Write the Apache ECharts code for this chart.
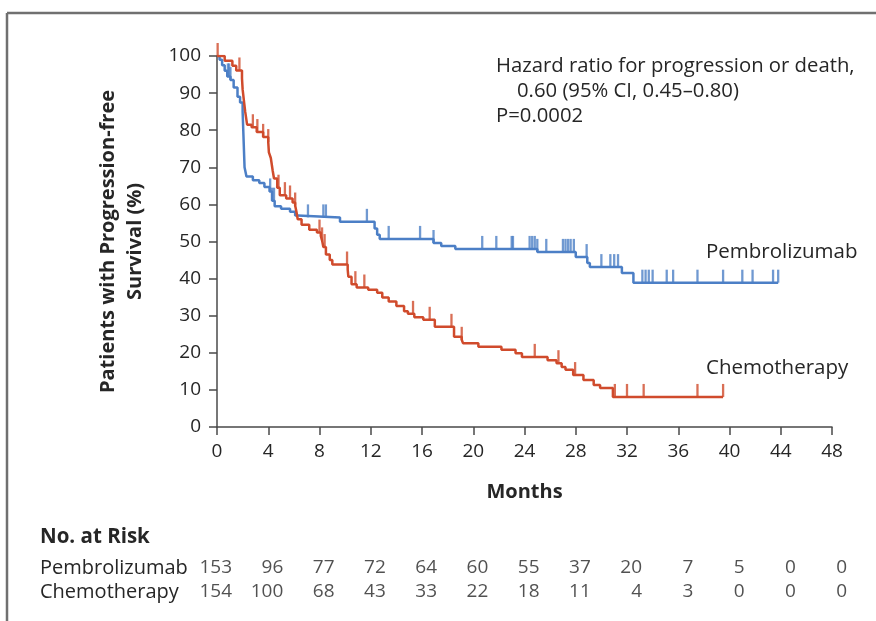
<!DOCTYPE html>
<html>
<head>
<meta charset="utf-8">
<script src="https://cdn.jsdelivr.net/npm/echarts@6/dist/echarts.min.js"></script>
<style>
html, body { margin: 0; padding: 0; background: #fff; }
#main { width: 876px; height: 621px; }
</style>
</head>
<body>
<div id="main"></div>
<script>
// Kaplan-Meier steps: [month, survival %]
var pembroCurve = [
    [0, 100], [0.2, 99], [0.4, 97.5], [0.6, 96], [0.8, 94.5], [1.05, 93.5], [1.3, 91.5],
    [1.6, 89], [1.8, 87.5], [2.0, 85], [2.05, 80], [2.1, 75], [2.15, 70], [2.3, 67.5],
    [2.8, 66.5], [3.3, 65.8], [3.7, 64.7], [4.1, 63.5], [4.3, 61], [4.5, 59.5], [5.0, 58.8],
    [5.7, 58], [6.1, 57], [6.3, 56.5], [9.6, 55.3], [12.3, 53.5], [12.5, 51.8], [12.7, 50.7],
    [16.9, 49.6], [17.5, 48.8], [18.6, 48], [25.0, 47.2], [28.0, 45.8], [28.9, 44.2],
    [29.1, 43.1], [31.6, 41.5], [32.5, 38.9], [43.8, 38.9]
];
var chemoCurve = [
    [0, 100], [0.6, 98.7], [1.2, 97.4], [1.5, 96.1], [1.95, 94], [2.0, 91], [2.1, 88],
    [2.2, 85], [2.35, 81.5], [2.7, 80.8], [3.1, 79.5], [3.6, 78.2], [4.0, 76.8], [4.05, 74],
    [4.2, 72.5], [4.35, 69], [4.45, 67], [4.7, 64.5], [4.9, 62.5], [5.4, 61.6], [5.9, 60.5],
    [6.1, 59.7], [6.2, 58], [6.3, 56], [6.6, 54.5], [7.2, 53.2], [7.8, 52.4], [8.1, 51.5],
    [8.2, 50.3], [8.3, 48.5], [8.5, 46.5], [8.8, 45], [9.0, 43.8], [10.2, 42.5], [10.25, 40.5],
    [10.5, 38.5], [10.9, 37.6], [11.8, 37], [12.5, 36.2], [12.9, 34.9], [13.4, 33.8],
    [14.0, 32.6], [14.6, 31.2], [14.9, 30.5], [15.4, 29.6], [16.1, 28.9], [17.0, 27.0],
    [18.5, 24.3], [19.1, 23.5], [19.2, 22.6], [20.4, 21.6], [22.2, 20.8], [23.3, 19.9],
    [23.8, 18.9], [25.8, 18], [26.5, 17.2], [26.9, 16.2], [27.2, 15.4], [27.8, 14],
    [28.6, 12.7], [29.4, 11.3], [29.9, 10.5], [30.9, 8.1], [39.5, 8.1]
];

// censored observations: [month, survival %]
var pembroCensor = [
    [0.85, 94.5], [0.95, 94.5], [1.05, 93.5], [4.15, 63.5], [4.3, 61], [4.45, 61],
    [7.1, 56.5], [8.3, 56.5], [8.5, 56.5], [11.7, 55.3], [13.4, 50.7], [15.85, 50.7],
    [16.9, 49.6], [20.7, 48], [21.8, 48], [23.0, 48], [23.1, 48], [24.4, 48], [24.6, 48],
    [24.8, 48], [25.0, 47.2], [25.7, 47.2], [27.0, 47.2], [27.2, 47.2], [27.4, 47.2],
    [27.6, 47.2], [27.85, 47.2], [28.85, 45.8], [30.0, 43.1], [30.7, 43.1], [31.0, 43.1],
    [31.3, 43.1], [33.2, 38.9], [33.45, 38.9], [33.7, 38.9], [34.0, 38.9], [35.1, 38.9],
    [35.6, 38.9], [37.5, 38.9], [39.5, 38.9], [41.0, 38.9], [41.8, 38.9], [43.4, 38.9],
    [43.8, 38.9]
];
var chemoCensor = [
    [0.05, 100], [1.75, 96.1], [2.8, 80.8], [3.15, 79.5], [3.6, 78.2], [4.0, 76.8],
    [4.8, 64.5], [5.3, 62.5], [5.7, 61.6], [6.1, 59.7], [8.0, 52.4], [8.2, 50.3],
    [8.4, 48.5], [10.15, 43.8], [10.8, 38.5], [11.5, 37.6], [15.3, 30.5], [16.6, 28.9],
    [18.3, 27.0], [19.1, 23.5], [24.8, 18.9], [26.65, 17.2], [27.95, 14], [31.05, 8.1],
    [32.0, 8.1], [33.3, 8.1], [37.5, 8.1], [39.5, 8.1]
];

var riskMonths = [0, 4, 8, 12, 16, 20, 24, 28, 32, 36, 40, 44, 48];
var pembroRisk = [153, 96, 77, 72, 64, 60, 55, 37, 20, 7, 5, 0, 0];
var chemoRisk = [154, 100, 68, 43, 33, 22, 18, 11, 4, 3, 0, 0, 0];
var groups = ['Pembrolizumab', 'Chemotherapy'];

var blue = '#4c7fc6';
var red = '#d04b2c';
var textColor = '#262626';
var axisColor = '#4a4a4a';
var font = 'Open Sans';

var chart = echarts.init(document.getElementById('main'));

function riskData(counts, row) {
    return riskMonths.map(function (m, i) { return [m, row, counts[i]]; });
}

var tickMark = {
    type: 'scatter',
    symbol: 'rect',
    symbolSize: [2.3, 13],
    symbolOffset: [0, -6.5],
    silent: true,
    z: 3
};

option = {
    animation: false,
    backgroundColor: '#fff',
    textStyle: { fontFamily: font },
    grid: [
        { left: 217, right: 44, top: 56, bottom: 194 },
        { left: 217, right: 44, top: 556, height: 48 }
    ],
    xAxis: [{
        type: 'value',
        gridIndex: 0,
        min: 0,
        max: 48,
        interval: 4,
        name: 'Months',
        nameLocation: 'middle',
        nameGap: 55,
        nameTextStyle: { fontSize: 20, fontWeight: 'bold', color: textColor, verticalAlign: 'top' },
        axisLine: { show: true, lineStyle: { color: axisColor, width: 1.5 } },
        axisTick: { show: true, length: 8, lineStyle: { color: axisColor, width: 1.5 } },
        axisLabel: { fontSize: 19, color: textColor, margin: 15 },
        splitLine: { show: false }
    }, {
        type: 'value',
        gridIndex: 1,
        min: 0,
        max: 48,
        interval: 4,
        show: false
    }],
    yAxis: [{
        type: 'value',
        gridIndex: 0,
        min: 0,
        max: 100,
        interval: 10,
        name: 'Patients with Progression-free\nSurvival (%)',
        nameLocation: 'middle',
        nameGap: 68,
        nameTextStyle: { fontSize: 20, fontWeight: 'bold', color: textColor, lineHeight: 27 },
        axisLine: { show: true, lineStyle: { color: axisColor, width: 1.5 } },
        axisTick: { show: true, length: 8, lineStyle: { color: axisColor, width: 1.5 } },
        axisLabel: { fontSize: 19, color: textColor, margin: 16 },
        splitLine: { show: false }
    }, {
        type: 'category',
        gridIndex: 1,
        data: groups,
        inverse: true,
        axisLine: { show: false },
        axisTick: { show: false },
        axisLabel: { interval: 0, hideOverlap: false, align: 'left', margin: 177, fontSize: 20, color: textColor }
    }],
    series: [
        {
            name: 'Pembrolizumab',
            type: 'line',
            step: 'end',
            data: pembroCurve,
            showSymbol: false,
            lineStyle: { color: blue, width: 2.5 },
            z: 2
        },
        Object.assign({}, tickMark, { name: 'Pembrolizumab censored', data: pembroCensor, itemStyle: { color: blue } }),
        {
            name: 'Chemotherapy',
            type: 'line',
            step: 'end',
            data: chemoCurve,
            showSymbol: false,
            lineStyle: { color: red, width: 2.5 },
            z: 4
        },
        Object.assign({}, tickMark, { name: 'Chemotherapy censored', data: chemoCensor, itemStyle: { color: red }, z: 5 }),
        {
            type: 'scatter',
            xAxisIndex: 1,
            yAxisIndex: 1,
            symbolSize: 0,
            data: riskData(pembroRisk, groups[0]).concat(riskData(chemoRisk, groups[1])),
            label: {
                show: true,
                position: 'left',
                distance: 0,
                offset: [15, 0],
                fontSize: 19,
                color: textColor,
                formatter: function (p) { return p.value[2]; }
            },
            silent: true
        }
    ],
    graphic: [
        { type: 'line', shape: { x1: 7, y1: 13, x2: 876, y2: 13 }, style: { stroke: '#707070', lineWidth: 2.5 } },
        { type: 'line', shape: { x1: 7, y1: 13, x2: 7, y2: 621 }, style: { stroke: '#707070', lineWidth: 2.5 } },
        { type: 'text', left: 496, top: 56, style: { text: 'Hazard ratio for progression or death,', font: '20.3px "Open Sans"', fill: textColor } },
        { type: 'text', left: 517, top: 81, style: { text: '0.60 (95% CI, 0.45\u20130.80)', font: '20.3px "Open Sans"', fill: textColor } },
        { type: 'text', left: 496, top: 106, style: { text: 'P=0.0002', font: '20.3px "Open Sans"', fill: textColor } },
        { type: 'text', left: 706, top: 242, style: { text: 'Pembrolizumab', font: '20.5px "Open Sans"', fill: textColor } },
        { type: 'text', left: 706, top: 358, style: { text: 'Chemotherapy', font: '20.5px "Open Sans"', fill: textColor } },
        { type: 'text', left: 40, top: 527, style: { text: 'No. at Risk', font: 'bold 20.5px "Open Sans"', fill: textColor } }
    ]
};

chart.setOption(option);
</script>
</body>
</html>
